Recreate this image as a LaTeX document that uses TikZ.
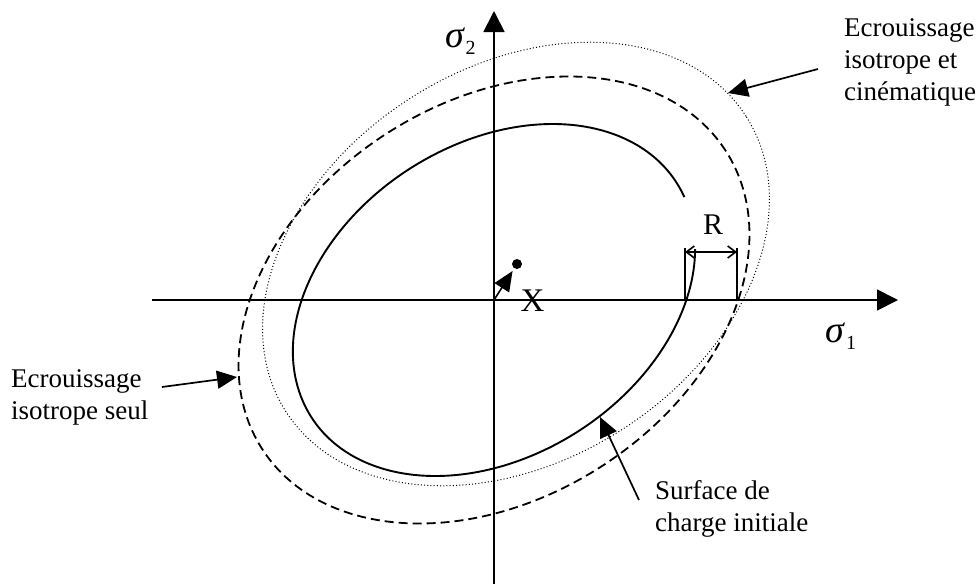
\documentclass[tikz,border=0pt]{standalone}
\usepackage{fontspec}
\setmainfont{Liberation Serif}
\usetikzlibrary{arrows.meta}
\begin{document}
\begin{tikzpicture}[x=1pt,y=1pt,
  lbl/.style={font=\fontsize{27}{32}\selectfont, align=left, inner sep=0pt},
  axis/.style={line width=1.8pt, -{Triangle[length=21pt,width=21pt]}},
  pointer/.style={line width=1.7pt, -{Triangle[length=20pt,width=18pt]}},
  solidcurve/.style={line width=1.9pt},
  dashcurve/.style={line width=1.8pt, dash pattern=on 9pt off 5pt},
  dotcurve/.style={line width=1pt, dash pattern=on 1pt off 2.2pt},
  thinline/.style={line width=1.6pt},
]
\useasboundingbox (0,-584) rectangle (977,0);
% axes
\coordinate (O) at (494,-300);
\coordinate (xa0) at (152,-300);
\coordinate (xa1) at (898,-300);
\coordinate (ya0) at (494,-584);
\coordinate (ya1) at (494,-11);
\draw[axis] (xa0) -- (xa1);
\draw[axis] (ya0) -- (ya1);
% curves
\draw[solidcurve, shift={(494,-300)}, rotate=32.7]
  ({217*cos(-6)},{156*sin(-6)}) arc[start angle=-6, end angle=335, x radius=217, y radius=156];
\draw[dashcurve, shift={(494,-300)}, rotate=32.7]
  (0,0) ellipse[x radius=275.6, y radius=198.1];
\draw[dotcurve, shift={(516,-264)}, rotate=32.7]
  (0,0) ellipse[x radius=273.4, y radius=196.6];
% axis labels
\node[inner sep=0pt] (s2) at (460.5,-41) {{\fontsize{38}{38}\selectfont\itshape σ}\,\raisebox{-7pt}{\fontsize{20}{20}\selectfont 2}};
\node[inner sep=0pt] (s1) at (841,-336) {{\fontsize{38}{38}\selectfont\itshape σ}\,\raisebox{-7pt}{\fontsize{20}{20}\selectfont 1}};
% X
\node[circle, fill, inner sep=0pt, minimum size=10pt] (Xc) at (517,-264) {};
\draw[line width=1.6pt, -{Triangle[length=20pt,width=17pt]}, shorten >=3pt] (O) -- (Xc);
\node[inner sep=0pt, font=\fontsize{33}{33}\selectfont] (Xl) at (532.5,-301) {X};
% R
\coordinate (r1b) at (685,-300);
\coordinate (r1t) at (685,-248);
\coordinate (r2b) at (737,-300);
\coordinate (r2t) at (737,-248);
\coordinate (ra) at (685,-252);
\coordinate (rb) at (737,-252);
\draw[thinline] (r1b) -- (r1t);
\draw[thinline] (r2b) -- (r2t);
\draw[thinline, {Straight Barb[length=8pt,width=12pt]}-{Straight Barb[length=8pt,width=12pt]}] (ra) -- (rb);
\node[inner sep=0pt, font=\fontsize{30}{30}\selectfont] (Rl) at (713,-225) {R};
% labels
\node[lbl, anchor=west] (lk) at (844,-62) {Ecrouissage\\isotrope et\\cinématique};
\node[lbl, anchor=west] (li) at (11,-397) {Ecrouissage\\isotrope seul};
\node[lbl, anchor=west] (ls) at (655,-509) {Surface de\\charge initiale};
\coordinate (p1s) at (818,-69);
\coordinate (p1e) at (728,-93);
\coordinate (p2s) at (162,-387);
\coordinate (p2e) at (237,-377);
\coordinate (p3s) at (639,-500);
\coordinate (p3e) at (600,-417);
\draw[pointer] (p1s) -- (p1e);
\draw[pointer] (p2s) -- (p2e);
\draw[pointer] (p3s) -- (p3e);
\end{tikzpicture}
\end{document}
